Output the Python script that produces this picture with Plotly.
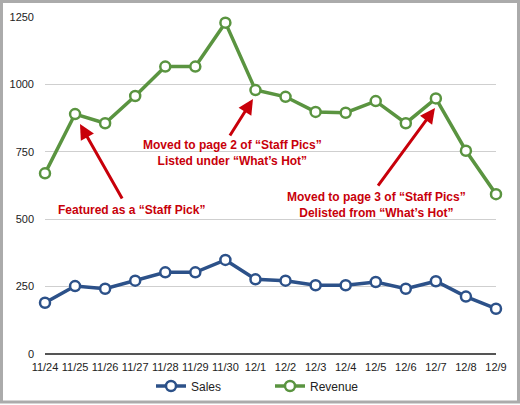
import plotly.graph_objects as go

dates = ["11/24", "11/25", "11/26", "11/27", "11/28", "11/29", "11/30", "12/1",
         "12/2", "12/3", "12/4", "12/5", "12/6", "12/7", "12/8", "12/9"]
sales = [190, 252, 242, 272, 303, 303, 349, 277, 272, 255, 255, 267, 242, 270, 213, 168]
revenue = [670, 890, 856, 957, 1066, 1066, 1229, 979, 954, 898, 895, 938, 856, 948, 754, 593]
y_ticks = [0, 250, 500, 750, 1000, 1250]

GREEN = "#5a9440"
BLUE = "#2c5189"
RED = "#c8000a"
FONT = "Liberation Sans, Arial, sans-serif"

fig = go.Figure()
fig.add_trace(go.Scatter(
    x=dates, y=sales, name="Sales", mode="lines+markers",
    line=dict(color=BLUE, width=3.5),
    marker=dict(symbol="circle", size=10, color="white", line=dict(color=BLUE, width=2.5)),
    cliponaxis=False,
))
fig.add_trace(go.Scatter(
    x=dates, y=revenue, name="Revenue", mode="lines+markers",
    line=dict(color=GREEN, width=3.5),
    marker=dict(symbol="circle", size=10, color="white", line=dict(color=GREEN, width=2.5)),
    cliponaxis=False,
))

arrows = [
    (1.164, 853, 2.594, 571),
    (6.917, 946, 6.119, 805),
    (12.97, 912, 11.04, 619),
]
for x, y, ax, ay in arrows:
    fig.add_annotation(x=x, y=y, ax=ax, ay=ay, xref="x", yref="y", axref="x", ayref="y",
                       text="", showarrow=True, arrowhead=2, arrowsize=1,
                       arrowwidth=3, arrowcolor=RED, standoff=0, startstandoff=0)

texts = [
    (2.893, 534, "Featured as a \u201cStaff Pick\u201d"),
    (6.25, 745, "Moved to page 2 of \u201cStaff Pics\u201d<br>Listed under \u201cWhat\u2019s Hot\u201d"),
    (11.01, 554, "Moved to page 3 of \u201cStaff Pics\u201d<br>Delisted from \u201cWhat\u2019s Hot\u201d"),
]
for x, y, t in texts:
    fig.add_annotation(x=x, y=y, xref="x", yref="y", text="<b>" + t + "</b>",
                       showarrow=False, font=dict(family=FONT, size=12, color=RED),
                       align="center")

# outer frame
fig.add_shape(type="rect", xref="paper", yref="paper",
              x0=(1.5 - 45) / 451, x1=(518.5 - 45) / 451,
              y0=(354 - 402) / 337, y1=(354 - 1.5) / 337,
              line=dict(color="#ababab", width=3), fillcolor="rgba(0,0,0,0)", layer="below")

fig.update_layout(
    width=520, height=405,
    margin=dict(l=45, r=24, t=17, b=51, autoexpand=False),
    paper_bgcolor="white", plot_bgcolor="white",
    font=dict(family=FONT, size=11, color="#222"),
    showlegend=True,
    legend=dict(orientation="h", x=(270 - 45) / 451, xanchor="center",
                y=(354 - 386) / 337, yanchor="middle",
                font=dict(size=12, color="#222"), entrywidth=74, entrywidthmode="pixels",
                bgcolor="rgba(0,0,0,0)"),
    xaxis=dict(range=[0, 15], showgrid=False, showline=False, zeroline=False,
               ticks="", tickfont=dict(size=11), fixedrange=True, automargin=False,
               ticklabelstandoff=5),
    yaxis=dict(range=[0, 1250], tickvals=y_ticks, showgrid=True, gridcolor="#cfcfcf",
               gridwidth=1, zeroline=True, zerolinecolor="#555", zerolinewidth=2,
               showline=False, ticks="", ticklabelstandoff=10, tickfont=dict(size=11),
               automargin=False),
)

fig.write_html("out.html", config={"displayModeBar": False},
               post_script="document.body.style.margin='0';document.body.style.overflow='hidden';")
